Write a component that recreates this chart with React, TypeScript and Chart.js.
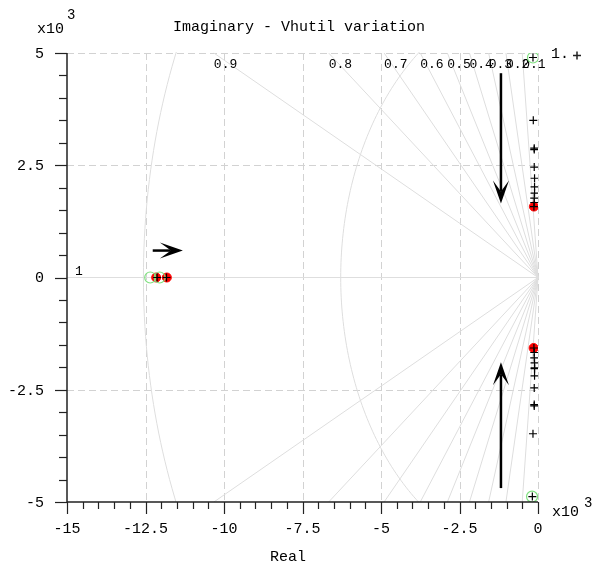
import React, { useEffect, useRef } from "react";
import { Chart, registerables } from "chart.js";

Chart.register(...registerables);

const TITLE = "Imaginary - Vhutil variation";
const X_LABEL = "Real";
const EXPONENT_BASE = "x10";
const EXPONENT = "3";

const xRange = [-15, 0];
const yRange = [-5, 5];
const xTickValues = [-15, -12.5, -10, -7.5, -5, -2.5, 0];
const xTickLabels = ["-15", "-12.5", "-10", "-7.5", "-5", "-2.5", "0"];
const yTickValues = [5, 2.5, 0, -2.5, -5];
const yTickLabels = ["5", "2.5", "0", "-2.5", "-5"];
const minorStep = 0.5;

const dampingValues = [1, 0.9, 0.8, 0.7, 0.6, 0.5, 0.4, 0.3, 0.2, 0.1];
const dampingLabels = ["1", "0.9", "0.8", "0.7", "0.6", "0.5", "0.4", "0.3", "0.2", "0.1"];
const naturalFreqs = [6.283, 12.566];

const locusReal = [
  -0.13, -0.12, -0.12, -0.11, -0.11, -0.11, -0.12, -0.12, -0.12, -0.15, -0.16,
  -0.13, -0.12, -0.12, -0.11, -0.11, -0.11, -0.11, -0.12, -0.12, -0.12, -0.16, -0.18,
  -12.13, -11.83,
];
const locusImag = [
  1.58, 1.67, 1.77, 1.88, 2.02, 2.21, 2.46, 2.85, 2.88, 3.5, 4.9,
  -1.57, -1.67, -1.79, -1.9, -2.01, -2.03, -2.19, -2.46, -2.83, -2.86, -3.48, -4.88,
  0, 0,
];
const poleReal = [-12.16, -11.82, -0.13, -0.14];
const poleImag = [0, 0, 1.58, -1.57];
const zeroReal = [-12.35, -12.05, -0.16, -0.19];
const zeroImag = [0, 0, 4.9, -4.88];

const arrowFromX = [-1.18, -1.18, -12.27];
const arrowFromY = [4.55, -4.69, 0.6];
const arrowToX = [-1.18, -1.18, -11.31];
const arrowToY = [1.65, -1.89, 0.6];

const MONO = "'Liberation Mono', 'DejaVu Sans Mono', monospace";

const sgridPlugin = {
  id: "sgrid",
  beforeDatasetsDraw(chart: any) {
    const { ctx, chartArea: a, scales } = chart;
    const xs = scales.x;
    const ys = scales.y;
    const px = (v: number) => xs.getPixelForValue(v);
    const py = (v: number) => ys.getPixelForValue(v);
    ctx.save();
    ctx.beginPath();
    ctx.rect(a.left, a.top - 1, a.right - a.left + 1, a.bottom - a.top + 1);
    ctx.clip();

    // dashed grid
    ctx.strokeStyle = "#d2d2d2";
    ctx.lineWidth = 1;
    ctx.setLineDash([7, 4]);
    xTickValues.forEach((v) => {
      if (v === xRange[0]) return;
      const x = Math.round(px(v)) + 0.5;
      ctx.beginPath();
      ctx.moveTo(x, a.top);
      ctx.lineTo(x, a.bottom);
      ctx.stroke();
    });
    yTickValues.forEach((v) => {
      if (v === yRange[0] || v === 0) return;
      const y = Math.round(py(v)) + 0.5;
      ctx.beginPath();
      ctx.moveTo(a.left, y);
      ctx.lineTo(a.right, y);
      ctx.stroke();
    });
    ctx.setLineDash([]);

    // damping rays
    ctx.strokeStyle = "#dedede";
    ctx.lineWidth = 1;
    const ox = px(0);
    const oy = py(0);
    dampingValues.forEach((z) => {
      const c = z;
      const s = Math.sqrt(Math.max(0, 1 - z * z));
      const tY = s > 1e-9 ? yRange[1] / s : Infinity;
      const tX = c > 1e-9 ? -xRange[0] / c : Infinity;
      const t = Math.min(tX, tY);
      [1, -1].forEach((sg) => {
        ctx.beginPath();
        ctx.moveTo(ox, oy);
        ctx.lineTo(px(-c * t), py(sg * s * t));
        ctx.stroke();
      });
    });

    // natural frequency arcs
    naturalFreqs.forEach((w) => {
      ctx.beginPath();
      for (let i = 0; i <= 180; i++) {
        const phi = Math.PI / 2 + (i / 180) * Math.PI;
        const X = px(w * Math.cos(phi));
        const Y = py(w * Math.sin(phi));
        if (i === 0) ctx.moveTo(X, Y);
        else ctx.lineTo(X, Y);
      }
      ctx.stroke();
    });
    ctx.restore();

    // damping labels
    ctx.save();
    ctx.fillStyle = "#000";
    ctx.font = `13px ${MONO}`;
    dampingValues.forEach((z, i) => {
      const c = z;
      const s = Math.sqrt(Math.max(0, 1 - z * z));
      const tY = s > 1e-9 ? yRange[1] / s : Infinity;
      const tX = c > 1e-9 ? -xRange[0] / c : Infinity;
      if (tY <= tX) {
        ctx.textAlign = "left";
        ctx.textBaseline = "top";
        ctx.fillText(dampingLabels[i], px(-c * tY), a.top + 5);
      } else {
        ctx.textAlign = "left";
        ctx.textBaseline = "bottom";
        ctx.fillText(dampingLabels[i], a.left + 8, py(s * tX) + 1);
      }
    });
    ctx.restore();
  },
  afterDatasetsDraw(chart: any) {
    const { ctx, chartArea: a, scales } = chart;
    const xs = scales.x;
    const ys = scales.y;
    const px = (v: number) => xs.getPixelForValue(v);
    const py = (v: number) => ys.getPixelForValue(v);

    // arrows
    ctx.save();
    ctx.fillStyle = "#000";
    ctx.strokeStyle = "#000";
    ctx.lineWidth = 2.5;
    arrowFromX.forEach((_, i) => {
      const x1 = px(arrowFromX[i]);
      const y1 = py(arrowFromY[i]);
      const x2 = px(arrowToX[i]);
      const y2 = py(arrowToY[i]);
      const L = Math.hypot(x2 - x1, y2 - y1);
      const dx = (x2 - x1) / L;
      const dy = (y2 - y1) / L;
      const nx = -dy;
      const ny = dx;
      const head = 23;
      const half = 8;
      const notch = 12;
      ctx.beginPath();
      ctx.moveTo(x1, y1);
      ctx.lineTo(x2 - dx * notch, y2 - dy * notch);
      ctx.stroke();
      ctx.beginPath();
      ctx.moveTo(x2, y2);
      ctx.lineTo(x2 - dx * head + nx * half, y2 - dy * head + ny * half);
      ctx.lineTo(x2 - dx * notch, y2 - dy * notch);
      ctx.lineTo(x2 - dx * head - nx * half, y2 - dy * head - ny * half);
      ctx.closePath();
      ctx.fill();
    });
    ctx.restore();

    // axes
    ctx.save();
    ctx.strokeStyle = "#222";
    ctx.lineWidth = 1.5;
    const axX = Math.round(a.left);
    const axY = Math.round(a.bottom);
    ctx.beginPath();
    ctx.moveTo(axX, a.top);
    ctx.lineTo(axX, axY);
    ctx.lineTo(a.right, axY);
    ctx.stroke();
    ctx.lineWidth = 1.2;
    const nY = Math.round((yRange[1] - yRange[0]) / minorStep);
    for (let k = 0; k <= nY; k++) {
      const v = yRange[0] + k * minorStep;
      const major = yTickValues.some((t) => Math.abs(t - v) < 1e-6);
      const y = Math.round(py(v)) + 0.5;
      ctx.beginPath();
      ctx.moveTo(axX, y);
      ctx.lineTo(axX - (major ? 12 : 8), y);
      ctx.stroke();
    }
    const nX = Math.round((xRange[1] - xRange[0]) / minorStep);
    for (let k = 0; k <= nX; k++) {
      const v = xRange[0] + k * minorStep;
      const major = xTickValues.some((t) => Math.abs(t - v) < 1e-6);
      const x = Math.round(px(v)) + 0.5;
      ctx.beginPath();
      ctx.moveTo(x, axY);
      ctx.lineTo(x, axY + (major ? 12 : 7));
      ctx.stroke();
    }

    // tick labels
    ctx.fillStyle = "#000";
    ctx.font = `15px ${MONO}`;
    ctx.textAlign = "right";
    ctx.textBaseline = "middle";
    yTickValues.forEach((v, i) => {
      ctx.fillText(yTickLabels[i], a.left - 23, py(v) + 1);
    });
    ctx.textAlign = "center";
    ctx.textBaseline = "middle";
    xTickValues.forEach((v, i) => {
      ctx.fillText(xTickLabels[i], px(v), a.bottom + 27);
    });

    // title and axis label
    ctx.font = `15px ${MONO}`;
    ctx.textAlign = "center";
    ctx.textBaseline = "middle";
    ctx.fillText(TITLE, 299, 27);
    ctx.fillText(X_LABEL, 288, 557);

    // exponents
    ctx.textAlign = "left";
    ctx.textBaseline = "alphabetic";
    ctx.font = `15px ${MONO}`;
    ctx.fillText(EXPONENT_BASE, 37, 33);
    ctx.fillText(EXPONENT_BASE, 552, 516);
    ctx.font = `14px ${MONO}`;
    ctx.fillText(EXPONENT, 67, 19);
    ctx.fillText(EXPONENT, 584, 507);

    // gain legend
    ctx.font = `15px ${MONO}`;
    ctx.fillText("1.", 551, 58);
    ctx.lineWidth = 1.5;
    ctx.beginPath();
    ctx.moveTo(573, 55.5);
    ctx.lineTo(581, 55.5);
    ctx.moveTo(577, 51.5);
    ctx.lineTo(577, 59.5);
    ctx.stroke();
    ctx.restore();
  },
};

export default function App() {
  const ref = useRef<HTMLCanvasElement | null>(null);
  useEffect(() => {
    if (!ref.current) return;
    const chart = new Chart(ref.current, {
      type: "scatter",
      data: {
        datasets: [
          {
            label: "locus",
            data: locusReal.map((x, i) => ({ x, y: locusImag[i] })),
            pointStyle: "cross",
            pointRadius: 4,
            borderColor: "#000",
            backgroundColor: "#000",
            borderWidth: 1.2,
            order: 0,
          },
          {
            label: "zeros",
            data: zeroReal.map((x, i) => ({ x, y: zeroImag[i] })),
            pointStyle: "circle",
            pointRadius: 5.5,
            borderColor: "#7fe07f",
            backgroundColor: "rgba(0,0,0,0)",
            borderWidth: 1.2,
            order: 1,
          },
          {
            label: "poles",
            data: poleReal.map((x, i) => ({ x, y: poleImag[i] })),
            pointStyle: "circle",
            pointRadius: 4.5,
            borderColor: "#ff0000",
            backgroundColor: "#ff0000",
            borderWidth: 1,
            order: 2,
          },
        ],
      },
      options: {
        responsive: false,
        animation: false,
        layout: { padding: { left: 67, right: 58, top: 53, bottom: 68 } },
        plugins: { legend: { display: false }, tooltip: { enabled: false }, title: { display: false } },
        scales: {
          x: { type: "linear", min: xRange[0], max: xRange[1], display: false },
          y: { type: "linear", min: yRange[0], max: yRange[1], display: false },
        },
      },
      plugins: [sgridPlugin],
    });
    return () => chart.destroy();
  }, []);
  return (
    <div style={{ position: "fixed", left: 0, top: 0, width: 596, height: 570, background: "#fff" }}>
      <canvas ref={ref} width={596} height={570} style={{ width: 596, height: 570, display: "block" }} />
    </div>
  );
}
